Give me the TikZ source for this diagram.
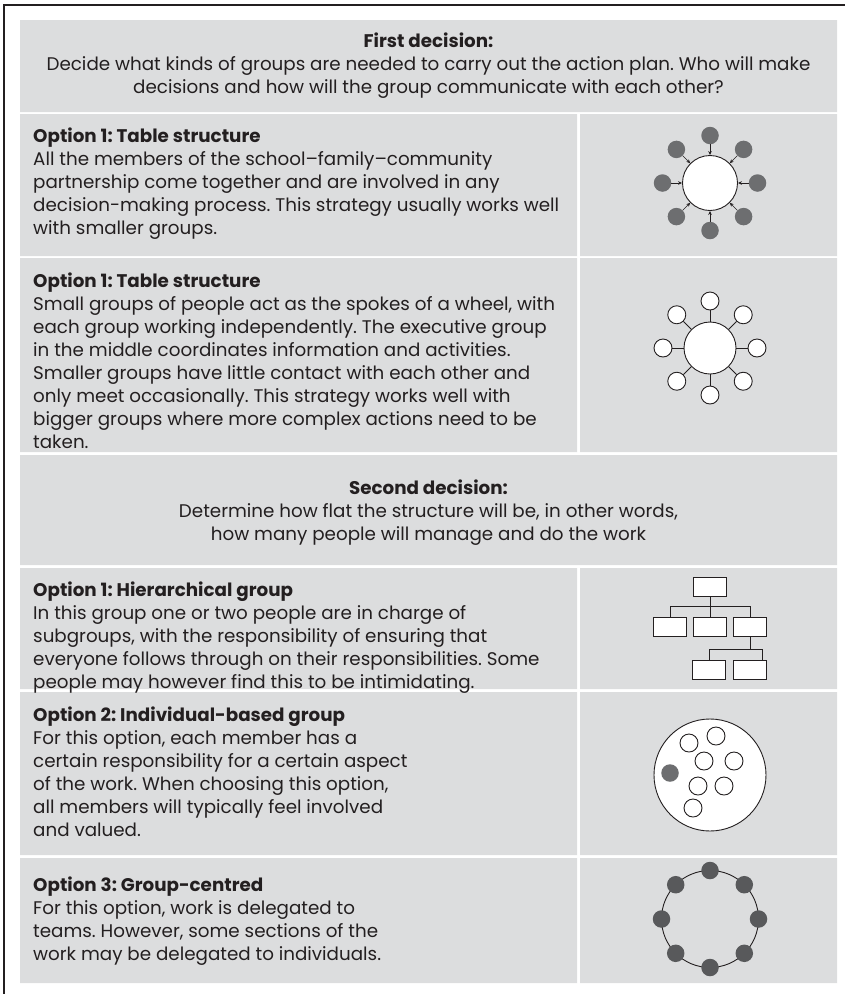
\documentclass[tikz,border=0pt]{standalone}
\usepackage{fontspec}
\setmainfont{Poppins}
\usepackage{xcolor}
\usetikzlibrary{arrows.meta, calc, positioning}
\frenchspacing

\definecolor{cellgrey}{HTML}{DCDDDE}
\definecolor{dotgrey}{HTML}{6D6E70}
\definecolor{ringgrey}{HTML}{58595B}
\definecolor{inkgrey}{HTML}{231F20}

\begin{document}
\begin{tikzpicture}[x=1pt, y=-1pt,
    head/.style={anchor=north, align=center, inner sep=0pt, text=inkgrey, font=\fontsize{18.3}{23}\selectfont},
    body/.style={anchor=north west, align=left, inner sep=0pt, text=inkgrey, font=\fontsize{18.3}{23}\selectfont},
    hub/.style={circle, draw=inkgrey, fill=white, line width=0.9pt, inner sep=0pt, minimum size=#1},
    member/.style={circle, fill=dotgrey, inner sep=0pt, minimum size=17.5pt},
    spoke/.style={circle, draw=inkgrey, fill=white, line width=0.9pt, inner sep=0pt, minimum size=18pt},
    unit/.style={draw=inkgrey, fill=white, line width=0.9pt, inner sep=0pt, minimum width=33pt, minimum height=19pt},
    link/.style={draw=inkgrey, line width=0.9pt}
  ]
  \useasboundingbox (0,0) rectangle (846,994);
  \draw[inkgrey, line width=1.4pt] (4,994) -- (4,5) -- (845,5);

  \fill[cellgrey]
  (20,20) rectangle (837,112)
  (20,114) rectangle (577,256) (580,114) rectangle (837,256)
  (20,258) rectangle (577,452) (580,258) rectangle (837,452)
  (20,455) rectangle (837,565)
  (20,568) rectangle (577,689) (580,568) rectangle (837,689)
  (20,692) rectangle (577,855) (580,692) rectangle (837,855)
  (20,858) rectangle (577,983) (580,858) rectangle (837,983);

  \node[head] (firsthead) at (428.5,32.6) {\textbf{First decision:}\\
    Decide what kinds of groups are needed to carry out the action plan. Who will make\\
    decisions and how will the group communicate with each other?};
  \node[body] (tabletext) at (33,127.6) {\textbf{Option 1: Table structure}\\
    All the members of the school--family--community\\
    partnership come together and are involved in any\\
    decision-making process. This strategy usually works well\\
    with smaller groups.};
  \node[body] (wheeltext) at (33,272.6) {\textbf{Option 1: Table structure}\\
    Small groups of people act as the spokes of a wheel, with\\
    each group working independently. The executive group\\
    in the middle coordinates information and activities.\\
    Smaller groups have little contact with each other and\\
    only meet occasionally. This strategy works well with\\
    bigger groups where more complex actions need to be\\
    taken.};
  \node[head] (secondhead) at (428.5,479.6) {\textbf{Second decision:}\\
    Determine how flat the structure will be, in other words,\\
    how many people will manage and do the work};
  \node[body] (treetext) at (33,581.6) {\textbf{Option 1: Hierarchical group}\\
    In this group one or two people are in charge of\\
    subgroups, with the responsibility of ensuring that\\
    everyone follows through on their responsibilities. Some\\
    people may however find this to be intimidating.};
  \node[body] (individualtext) at (33,706.6) {\textbf{Option 2: Individual-based group}\\
    For this option, each member has a\\
    certain responsibility for a certain aspect\\
    of the work. When choosing this option,\\
    all members will typically feel involved\\
    and valued.};
  \node[body] (ringtext) at (33,876.6) {\textbf{Option 3: Group-centred}\\
    For this option, work is delegated to\\
    teams. However, some sections of the\\
    work may be delegated to individuals.};

  \node[hub=55pt] (table) at (710,183) {};
  \foreach \a in {0,45,...,315} {
    \node[member] (seat\a) at ([shift={(\a:47.5)}]table.center) {};
    \draw[inkgrey, line width=0.6pt, -{Stealth[length=4pt, width=3.5pt]}] (seat\a) -- (table);
  }

  \node[hub=52pt] (exec) at (710,348) {};
  \foreach \a in {0,45,...,315} {
    \node[spoke] (team\a) at ([shift={(\a:47)}]exec.center) {};
    \draw[link] (team\a) -- (exec);
  }

  \node[unit] (lead) at (710,587) {};
  \node[unit] (subA) at (670,627) {};
  \node[unit] (subB) at (710,627) {};
  \node[unit] (subC) at (750,627) {};
  \node[unit] (subD) at (709,670) {};
  \node[unit] (subE) at (750,670) {};
  \draw[link]
  (lead) -- (subB)
  (lead.south) -- ++(0,9) -| (subA)
  (lead.south) -- ++(0,9) -| (subC)
  (subC.south) -- ++(0,12) -| (subD)
  (subC.south) -- ++(0,12) -| ([xshift=-5pt]subE.north east);

  \node[hub=112pt] (pool) at (710,775) {};
  \foreach \p [count=\i] in {(689,743), (716,736), (704,761), (734,761), (698,786), (724,786), (693,808)}
    \node[spoke] (person\i) at \p {};
  \node[member] (keyperson) at (670,773) {};

  \node[circle, draw=inkgrey, line width=0.9pt, inner sep=0pt, minimum size=97pt] (ring) at (710,919) {};
  \foreach \a in {0,45,...,315}
    \node[member, fill=ringgrey] (crew\a) at ([shift={(\a:48.5)}]ring.center) {};
\end{tikzpicture}
\end{document}
